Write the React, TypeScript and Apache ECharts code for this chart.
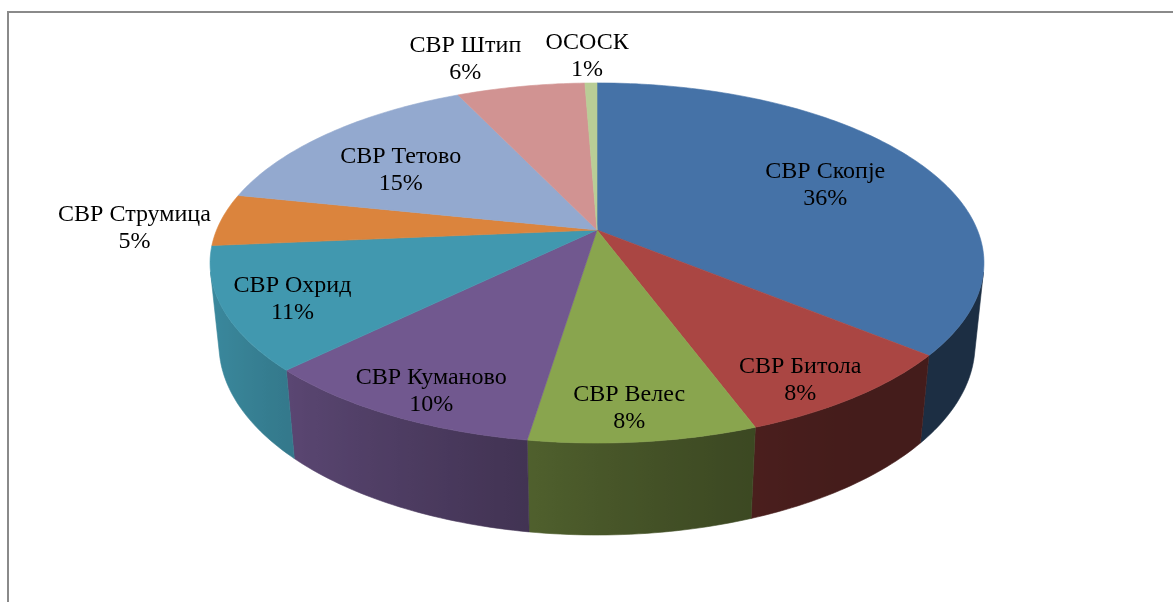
import React, { useEffect, useRef } from 'react';
import * as echarts from 'echarts';

// ---- data ----
const CATEGORIES = ['СВР Скопје', 'СВР Битола', 'СВР Велес', 'СВР Куманово', 'СВР Охрид', 'СВР Струмица', 'СВР Тетово', 'СВР Штип', 'ОСОСК'];
const VALUES = [36.0, 8.4, 8.0, 10.2, 11.0, 4.7, 14.7, 6.4, 0.6];
const COLORS = ['#4572A7', '#AA4643', '#89A54E', '#71588F', '#4198AF', '#DB843D', '#93A9CF', '#D19392', '#B9CD96'];

// ---- label layout (radius fraction, angular shift in degrees) ----
const LABEL_RADIUS = [0.69, 0.87, 0.86, 0.87, 0.83, 1.22, 0.67, 1.28, 1.24];
const LABEL_SHIFT_DEG = [1.3, 3.2, 1, -1.6, -0.9, -2.6, -3.8, -5.6, -0.4];

// ---- 3D projection parameters ----
const CX = 597;
const CY = 230;
const FOCAL = 1845.7;
const DIST = 4.852;
const SIN_A = 0.4574;
const COS_A = 0.889;
const THICK = 0.2428;
const VIS_COS = -1 / (DIST * COS_A); // side visible where cos(theta) < VIS_COS

function proj(theta: number, rho: number, w: number): number[] {
  const u = rho * Math.sin(theta);
  const v = rho * Math.cos(theta);
  const Y = v * SIN_A + w * COS_A;
  const Z = DIST + v * COS_A - w * SIN_A;
  return [CX + (FOCAL * u) / Z, CY - (FOCAL * Y) / Z];
}

function shade(hex: string, f: number): string {
  const n = parseInt(hex.slice(1), 16);
  const r = Math.round(((n >> 16) & 255) * f);
  const g = Math.round(((n >> 8) & 255) * f);
  const b = Math.round((n & 255) * f);
  return `rgb(${r},${g},${b})`;
}

function sideFactor(theta: number): number {
  const deg = (theta * 180) / Math.PI;
  let t = (deg - 140) / 120;
  t = Math.max(0, Math.min(1, t));
  const s = t * t * (3 - 2 * t);
  return 0.4 + 0.5 * s;
}

const TOTAL = VALUES.reduce((a, b) => a + b, 0);
const SLICES: number[][] = (() => {
  let acc = 0;
  return VALUES.map((v, i) => {
    const s = acc / TOTAL;
    acc += v;
    return [s, acc / TOTAL, i];
  });
})();

const TWO_PI = Math.PI * 2;
const STEP = Math.PI / 180;

export default function App() {
  const ref = useRef<HTMLDivElement>(null);
  useEffect(() => {
    if (!ref.current) return;
    const chart = echarts.init(ref.current, null, { renderer: 'svg' });
    const visStart = Math.acos(VIS_COS);
    const visEnd = TWO_PI - visStart;

    const renderSide = (params: any, api: any) => {
      const a0 = api.value(0) * TWO_PI;
      const a1 = api.value(1) * TWO_PI;
      const idx = api.value(2);
      const s = Math.max(a0, visStart);
      const e = Math.min(a1, visEnd);
      if (e <= s) return { type: 'group', children: [] };
      const n = Math.max(2, Math.ceil((e - s) / STEP));
      const top: number[][] = [];
      const bot: number[][] = [];
      const thetas: number[] = [];
      for (let i = 0; i <= n; i++) {
        const th = s + ((e - s) * i) / n;
        thetas.push(th);
        top.push(proj(th, 1, 0));
        bot.push(proj(th, 1, -THICK));
      }
      const pts = top.concat(bot.slice().reverse());
      let minx = Infinity, maxx = -Infinity;
      pts.forEach((p) => { minx = Math.min(minx, p[0]); maxx = Math.max(maxx, p[0]); });
      const stops = thetas.map((th, i) => ({
        offset: Math.max(0, Math.min(1, (top[i][0] - minx) / (maxx - minx || 1))),
        color: shade(COLORS[idx], sideFactor(th)),
      })).sort((a, b) => a.offset - b.offset);
      const grad = new echarts.graphic.LinearGradient(0, 0, 1, 0, stops);
      return {
        type: 'polygon',
        shape: { points: pts },
        style: { fill: grad, stroke: grad, lineWidth: 0.6 },
      };
    };

    const renderTop = (params: any, api: any) => {
      const a0 = api.value(0) * TWO_PI;
      const a1 = api.value(1) * TWO_PI;
      const idx = api.value(2);
      const n = Math.max(2, Math.ceil((a1 - a0) / STEP));
      const pts: number[][] = [proj(0, 0, 0)];
      for (let i = 0; i <= n; i++) {
        pts.push(proj(a0 + ((a1 - a0) * i) / n, 1, 0));
      }
      return {
        type: 'polygon',
        shape: { points: pts },
        style: { fill: COLORS[idx], stroke: COLORS[idx], lineWidth: 0.6, lineJoin: 'round' },
      };
    };

    const renderLabel = (params: any, api: any) => {
      const a0 = api.value(0) * TWO_PI;
      const a1 = api.value(1) * TWO_PI;
      const idx = api.value(2);
      const mid = (a0 + a1) / 2 + (LABEL_SHIFT_DEG[idx] * Math.PI) / 180;
      const p = proj(mid, LABEL_RADIUS[idx], 0);
      const pct = Math.round((VALUES[idx] / TOTAL) * 100);
      return {
        type: 'text',
        x: p[0],
        y: p[1],
        style: {
          text: `${CATEGORIES[idx]}\n${pct}%`,
          fill: '#000',
          fontSize: 24,
          fontFamily: '"Liberation Serif", "Times New Roman", serif',
          align: 'center',
          verticalAlign: 'middle',
          lineHeight: 27,
        },
      };
    };

    chart.setOption({
      animation: false,
      graphic: [
        {
          type: 'rect',
          shape: { x: 8, y: 12, width: 1300, height: 800 },
          style: { fill: 'none', stroke: '#8a8a8a', lineWidth: 2 },
          silent: true,
        },
      ],
      series: [
        { type: 'custom', coordinateSystem: 'none', renderItem: renderSide, data: SLICES, silent: true, z: 1 },
        { type: 'custom', coordinateSystem: 'none', renderItem: renderTop, data: SLICES, silent: true, z: 2 },
        { type: 'custom', coordinateSystem: 'none', renderItem: renderLabel, data: SLICES, silent: true, z: 3 },
      ],
    });
    return () => chart.dispose();
  }, []);
  return <div ref={ref} style={{ position: 'fixed', left: 0, top: 0, width: 1173, height: 602 }} />;
}
